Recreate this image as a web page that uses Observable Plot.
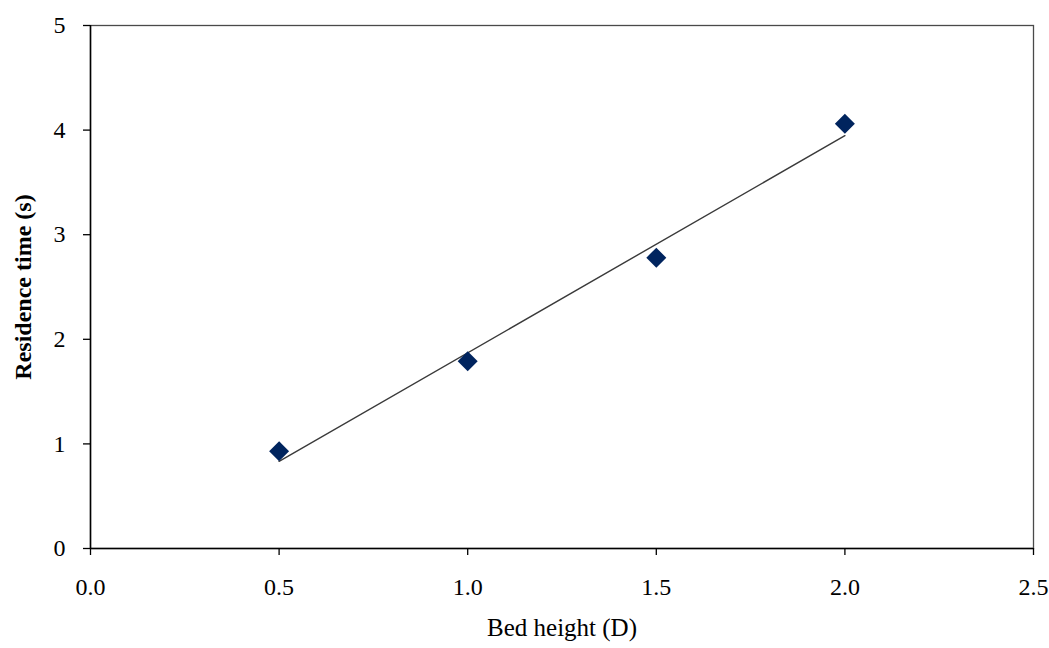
<!DOCTYPE html>
<html>
<head>
<meta charset="utf-8">
<script src="https://cdn.jsdelivr.net/npm/d3@7"></script>
<script src="https://cdn.jsdelivr.net/npm/@observablehq/plot@0.6"></script>
<style>
  html, body { margin: 0; padding: 0; background: #fff; }
  #chart svg { display: block; }
</style>
</head>
<body>
<div id="chart"></div>
<script>
const bedHeight = [0.5, 1.0, 1.5, 2.0];
const residenceTime = [0.93, 1.79, 2.78, 4.06];
const xTicks = [0, 0.5, 1.0, 1.5, 2.0, 2.5];
const yTicks = [0, 1, 2, 3, 4, 5];
const xLabel = "Bed height (D)";
const yLabel = "Residence time (s)";

const data = bedHeight.map((x, i) => ({x, y: residenceTime[i]}));

const chart = Plot.plot({
  width: 1049,
  height: 648,
  marginLeft: 90,
  marginRight: 16,
  marginTop: 25,
  marginBottom: 100,
  style: {fontFamily: "Liberation Serif", color: "#000", background: "#fff"},
  x: {domain: [0, 2.5]},
  y: {domain: [0, 5]},
  marks: [
    Plot.frame({stroke: "#4a4a4a", strokeWidth: 1.3}),
    Plot.axisX({ticks: xTicks, tickFormat: d3.format(".1f"), tickSize: 7, tickPadding: 22, fontSize: 24, label: null, stroke: "#000", strokeWidth: 1.3}),
    Plot.axisY({ticks: yTicks, tickFormat: d3.format("d"), tickSize: 7, tickPadding: 18, fontSize: 24, label: null, stroke: "#000", strokeWidth: 1.3}),
    Plot.ruleX([0], {stroke: "#000", strokeWidth: 1.5}),
    Plot.ruleY([0], {stroke: "#000", strokeWidth: 1.5}),
    Plot.linearRegressionY(data, {x: "x", y: "y", ci: 0, stroke: "#3a3a3a", strokeWidth: 1.4}),
    Plot.dot(data, {x: "x", y: "y", symbol: "diamond2", r: 9, fill: "#00245e", stroke: "none"}),
    Plot.text([xLabel], {frameAnchor: "bottom", dy: 87, fontSize: 25, fill: "#000"}),
    Plot.text([yLabel], {frameAnchor: "left", dx: -67, rotate: -90, textAnchor: "middle", fontSize: 24, fontWeight: "bold", fill: "#000"})
  ]
});
document.getElementById("chart").appendChild(chart);
</script>
</body>
</html>
